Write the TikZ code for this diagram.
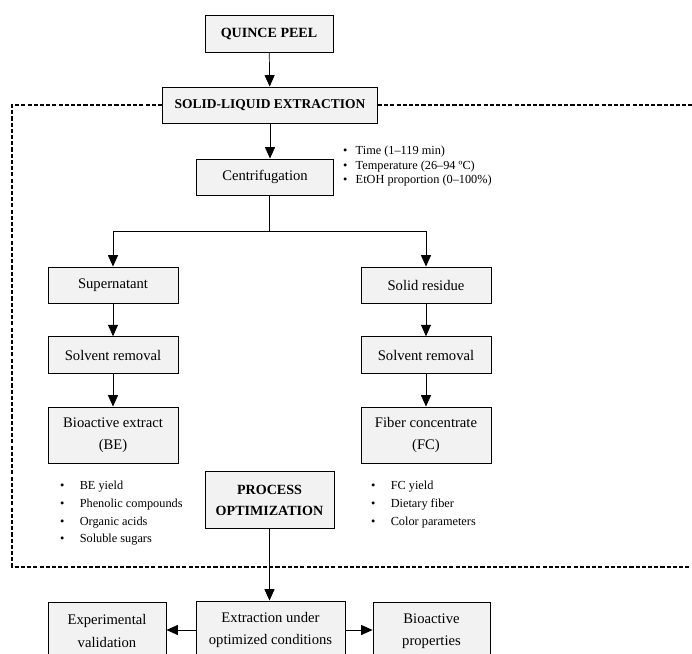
\documentclass[tikz,border=0pt]{standalone}
\usepackage{fontspec}
\setmainfont{Liberation Serif}
\usetikzlibrary{arrows.meta}
\begin{document}
\begin{tikzpicture}[x=0.03cm,y=-0.03cm,
		box/.style={draw,line width=0.8pt,fill=gray!10,align=center,inner sep=2pt,font=\fontsize{12.5}{19}\selectfont},
		title/.style={box,font=\bfseries\fontsize{12}{18}\selectfont},
		arr/.style={-{Triangle[length=3.4mm,width=3mm]},line width=0.6pt},
		frame/.style={line width=0.9pt,dash pattern=on 3.5pt off 1.8pt},
		bullets/.style={anchor=base west,inner sep=0pt}]
		\clip (0,0) rectangle (692,654) ;
		\node[title,minimum width=3.84cm,minimum height=1.11cm] (peel) at (269,34) {QUINCE PEEL} ;
		\node[title,font=\bfseries\fontsize{11.5}{18}\selectfont,minimum width=6.45cm,minimum height=1.08cm] (sle) at (270,105) {SOLID-LIQUID EXTRACTION} ;
		\node[box,minimum width=4.11cm,minimum height=1.08cm] (cen) at (265,177) {Centrifugation} ;
		\node[box,minimum width=3.9cm,minimum height=1.08cm] (sup) at (113,285) {Supernatant} ;
		\node[box,minimum width=3.9cm,minimum height=1.08cm] (res) at (426,285) {Solid residue} ;
		\node[box,minimum width=3.9cm,minimum height=1.1cm] (remL) at (113,355) {Solvent removal} ;
		\node[box,minimum width=3.9cm,minimum height=1.1cm] (remR) at (426,355) {Solvent removal} ;
		\node[box,minimum width=3.9cm,minimum height=1.68cm] (be) at (113,435) {Bioactive extract\\(BE)} ;
		\node[box,minimum width=3.9cm,minimum height=1.68cm] (fc) at (426,435) {Fiber concentrate\\(FC)} ;
		\node[title,minimum width=3.87cm,minimum height=1.71cm] (opt) at (269.5,500) {PROCESS\\OPTIMIZATION} ;
		\node[box,minimum width=4.47cm,minimum height=1.74cm] (ext) at (270.5,630) {Extraction under\\optimized conditions} ;
		\node[box,minimum width=3.54cm,minimum height=1.74cm] (val) at (107,631) {Experimental\\validation} ;
		\node[box,minimum width=3.51cm,minimum height=1.74cm] (bio) at (431.5,631) {Bioactive\\properties} ;
		\node[bullets,font=\fontsize{10.5}{12}\selectfont] (cond) at (343,155) {\begin{tabular}[t]{@{}l@{\hspace{7pt}}l@{}}
			\textbullet & Time (1--119 min)\\
			\textbullet & Temperature (26--94 ºC)\\
			\textbullet & EtOH proportion (0--100\%)
		\end{tabular}} ;
		\node[bullets,font=\fontsize{10.5}{15}\selectfont] (beresp) at (60,490) {\begin{tabular}[t]{@{}l@{\hspace{13pt}}l@{}}
			\textbullet & BE yield\\
			\textbullet & Phenolic compounds\\
			\textbullet & Organic acids\\
			\textbullet & Soluble sugars
		\end{tabular}} ;
		\node[bullets,font=\fontsize{10.5}{15}\selectfont] (fcresp) at (371,490) {\begin{tabular}[t]{@{}l@{\hspace{13pt}}l@{}}
			\textbullet & FC yield\\
			\textbullet & Dietary fiber\\
			\textbullet & Color parameters
		\end{tabular}} ;
		\coordinate (split) at (269,231) ;
		\coordinate (fTL) at (12,105) ; \coordinate (fBL) at (12,567) ;
		\coordinate (fTR) at (700,105) ; \coordinate (fBR) at (700,567) ;
		\draw[frame] (sle.west) -- (fTL) -- (fBL) -- (fBR) ;
		\draw[frame] (sle.east) -- (fTR) ;
		\draw[arr] (peel) -- (sle) ;
		\draw[arr] (sle.south) -- (sle.south |- cen.north) ;
		\draw[line width=0.6pt] (cen.south -| split) -- (split) ;
		\draw[arr] (split) -| (sup.north) ;
		\draw[arr] (split) -| (res.north) ;
		\draw[arr] (sup) -- (remL) ;
		\draw[arr] (remL) -- (be) ;
		\draw[arr] (res) -- (remR) ;
		\draw[arr] (remR) -- (fc) ;
		\draw[arr] (opt.south) -- (opt.south |- ext.north) ;
		\draw[arr] (ext.west) -- (ext.west -| val.east) ;
		\draw[arr] (ext.east) -- (ext.east -| bio.west) ;
	\end{tikzpicture}
\end{document}
